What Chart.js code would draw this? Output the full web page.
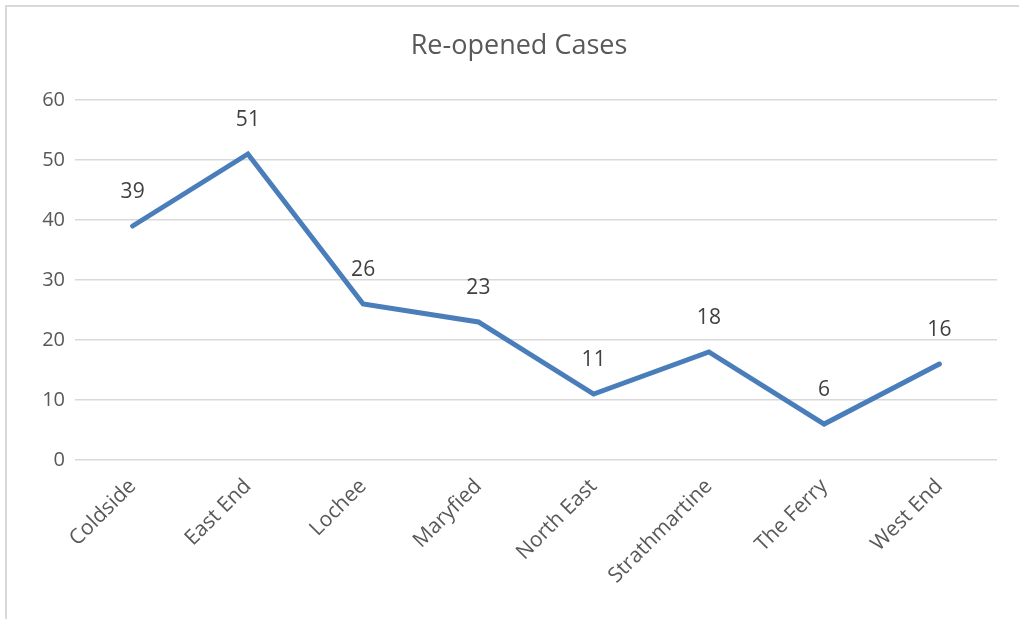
<!DOCTYPE html>
<html><head><meta charset="utf-8">
<script src="https://cdn.jsdelivr.net/npm/chart.js@4/dist/chart.umd.min.js"></script>
<style>html,body{margin:0;padding:0;background:#fff;}#wrap{width:1019px;height:619px;position:relative;}</style>
</head><body><div id="wrap"><canvas id="c" width="1019" height="619"></canvas></div>
<script>
const categories = ["Coldside","East End","Lochee","Maryfied","North East","Strathmartine","The Ferry","West End"];
const values = [39,51,26,23,11,18,6,16];
const yTicks = [0,10,20,30,40,50,60];
const titleText = "Re-opened Cases";
const FONT = "'Open Sans', 'Noto Sans', sans-serif";

const deco = {
  id:'deco',
  beforeDraw(chart){
    const c = chart.ctx;
    c.save();
    c.fillStyle='#fff'; c.fillRect(0,0,chart.width,chart.height);
    c.strokeStyle='#d9d9d9'; c.lineWidth=2;
    c.beginPath(); c.moveTo(6,chart.height); c.lineTo(6,6); c.lineTo(chart.width,6); c.stroke();
    c.fillStyle='#595959'; c.font="27px "+FONT; c.textAlign='center'; c.textBaseline='middle';
    c.fillText(titleText, 519, 46);
    c.restore();
  },
  afterDatasetsDraw(chart){
    const c = chart.ctx; const meta = chart.getDatasetMeta(0);
    c.save();
    c.fillStyle='#404040'; c.font="21px "+FONT; c.textAlign='center'; c.textBaseline='middle';
    meta.data.forEach((p,i)=>{ c.fillText(String(values[i]), p.x, p.y-34); });
    c.restore();
  }
};

new Chart(document.getElementById('c'), {
  type:'line',
  data:{labels:categories, datasets:[{data:values, borderColor:'#4a7ebb', borderWidth:5, pointRadius:0, fill:false, tension:0, borderCapStyle:'round', borderJoinStyle:'miter'}]},
  options:{
    responsive:false, animation:false, devicePixelRatio:1,
    layout:{padding:{left:0,top:100,right:22,bottom:0}},
    plugins:{legend:{display:false}, title:{display:false}, tooltip:{enabled:false}},
    scales:{
      x:{offset:true, grid:{display:false}, border:{display:false},
         ticks:{color:'#595959', font:{family:FONT,size:21}, minRotation:45, maxRotation:45, padding:6, autoSkip:false},
         afterFit(s){ s.height = 159; }},
      y:{min:0,max:60, afterBuildTicks(s){ s.ticks = yTicks.map(v=>({value:v})); },
         grid:{color:'#d9d9d9', lineWidth:1.5, drawTicks:false}, border:{display:false},
         ticks:{color:'#595959', font:{family:FONT,size:20}, padding:10},
         afterFit(s){ s.width = 75; }}
    }
  },
  plugins:[deco]
});
</script></body></html>
